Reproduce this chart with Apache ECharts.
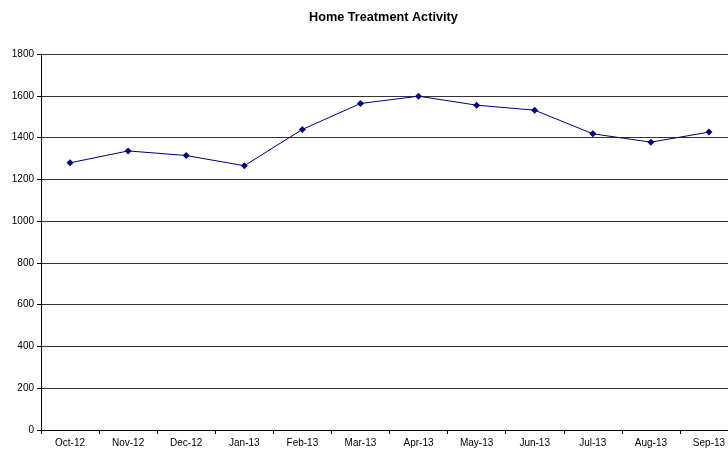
<!DOCTYPE html>
<html><head><meta charset="utf-8">
<script src="https://cdn.jsdelivr.net/npm/echarts@6/dist/echarts.min.js"></script>
<style>html,body{margin:0;padding:0;background:#fff}#c{width:728px;height:452px}</style>
</head><body><div id="c"></div>
<script>
const categories = ['Oct-12','Nov-12','Dec-12','Jan-13','Feb-13','Mar-13','Apr-13','May-13','Jun-13','Jul-13','Aug-13','Sep-13'];
const values = [1279,1336,1314,1265,1439,1563,1598,1555,1531,1418,1378,1426];
const chart = echarts.init(document.getElementById('c'), null, {renderer:'canvas'});
chart.setOption({
  animation:false,
  backgroundColor:'#fff',
  title:{text:'Home Treatment Activity',left:304,top:6,textStyle:{fontFamily:'Liberation Sans',fontSize:12.7,fontWeight:'bold',color:'#000'}},
  grid:{left:41,width:697,top:54,height:376,containLabel:false,outerBoundsMode:'none'},
  xAxis:{type:'category',data:categories,boundaryGap:true,
    axisLine:{lineStyle:{color:'#000',width:1}},
    axisTick:{show:true,length:4,inside:false,lineStyle:{color:'#000'}},
    axisLabel:{fontFamily:'Liberation Sans',fontSize:10,color:'#000',margin:8,interval:0},
    splitLine:{show:false}},
  yAxis:{type:'value',min:0,max:1800,interval:200,
    axisLine:{show:true,lineStyle:{color:'#000',width:1}},
    axisTick:{show:true,length:4,lineStyle:{color:'#000'}},
    axisLabel:{fontFamily:'Liberation Sans',fontSize:10,color:'#000',margin:7,formatter:function(v){return String(v);}},
    splitLine:{show:true,lineStyle:{color:'#333',width:1}}},
  series:[{type:'line',data:values,symbol:'diamond',symbolSize:7,
    lineStyle:{color:'#000080',width:1},itemStyle:{color:'#000080'}}]
});
</script></body></html>
